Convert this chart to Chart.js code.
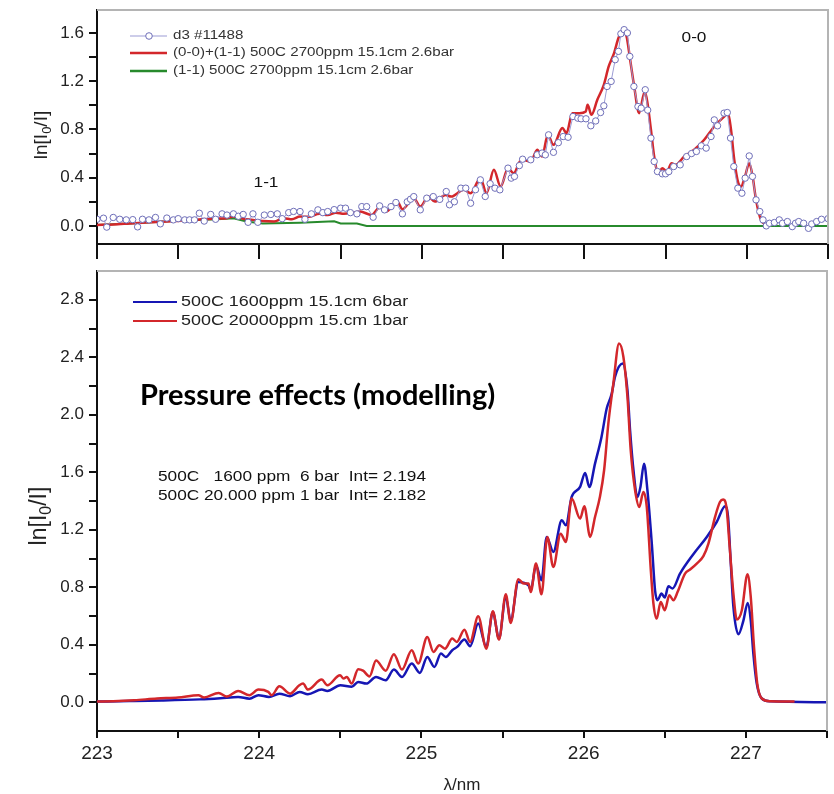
<!DOCTYPE html>
<html><head><meta charset="utf-8">
<script src="https://cdn.jsdelivr.net/npm/chart.js@4.4.1/dist/chart.umd.min.js"></script>
<style>
html,body{margin:0;padding:0;background:#fff;}
#wrap{position:relative;width:834px;height:794px;overflow:hidden;background:#fff;}
#c1{position:absolute;left:0;top:0;}
#c2{position:absolute;left:0;top:262px;}
</style></head><body>
<div id="wrap">
<canvas id="c1" width="834" height="262"></canvas>
<canvas id="c2" width="834" height="532"></canvas>
</div>
<script>
// ---------- DATA ----------
const xTicks = [223, 223.5, 224, 224.5, 225, 225.5, 226, 226.5, 227, 227.5];
const topYTicks = [0, 0.2, 0.4, 0.6, 0.8, 1.0, 1.2, 1.4, 1.6];
const bottomYTicks = [0, 0.2, 0.4, 0.6, 0.8, 1.0, 1.2, 1.4, 1.6, 1.8, 2.0, 2.2, 2.4, 2.6, 2.8];

const topLabels = ['d3 #11488', '(0-0)+(1-1) 500C 2700ppm 15.1cm 2.6bar', '(1-1) 500C 2700ppm 15.1cm 2.6bar'];
const bottomLabels = ['500C 1600ppm 15.1cm 6bar', '500C 20000ppm 15.cm 1bar'];

// measured d3 #11488
const measLambda = [223.00,223.04,223.06,223.10,223.14,223.18,223.22,223.25,223.28,223.32,223.36,223.39,223.43,223.47,223.50,223.54,223.57,223.60,223.63,223.66,223.70,223.73,223.77,223.80,223.84,223.87,223.90,223.93,223.96,223.99,224.03,224.07,224.11,224.14,224.18,224.21,224.25,224.28,224.32,224.36,224.39,224.42,224.46,224.50,224.53,224.56,224.60,224.63,224.66,224.70,224.74,224.77,224.81,224.84,224.88,224.91,224.93,224.95,224.99,225.03,225.07,225.11,225.15,225.17,225.20,225.24,225.27,225.30,225.33,225.36,225.39,225.42,225.45,225.48,225.53,225.55,225.57,225.60,225.62,225.67,225.71,225.74,225.76,225.78,225.81,225.84,225.87,225.90,225.93,225.96,225.98,226.01,226.04,226.07,226.10,226.12,226.14,226.165,226.19,226.21,226.225,226.245,226.265,226.28,226.305,226.33,226.35,226.375,226.39,226.41,226.43,226.45,226.48,226.50,226.52,226.55,226.59,226.63,226.66,226.69,226.72,226.75,226.78,226.80,226.82,226.86,226.88,226.90,226.92,226.945,226.97,226.99,227.015,227.035,227.057,227.08,227.10,227.12,227.14,227.17,227.20,227.22,227.25,227.28,227.30,227.32,227.35,227.38,227.40,227.43,227.46,227.50];
const measValues = [0.055,0.064,-0.01,0.07,0.055,0.05,0.052,-0.008,0.055,0.05,0.07,0.017,0.065,0.05,0.06,0.05,0.05,0.05,0.105,0.04,0.095,0.055,0.1,0.09,0.1,0.08,0.095,0.03,0.1,0.03,0.09,0.095,0.1,0.06,0.11,0.12,0.119,0.055,0.1,0.133,0.11,0.119,0.135,0.147,0.147,0.11,0.1,0.16,0.16,0.072,0.166,0.133,0.16,0.194,0.1,0.2,0.221,0.243,0.133,0.23,0.243,0.22,0.285,0.175,0.2,0.313,0.313,0.188,0.3,0.382,0.244,0.35,0.313,0.299,0.479,0.396,0.41,0.5,0.553,0.548,0.59,0.604,0.589,0.755,0.61,0.69,0.741,0.735,0.907,0.893,0.888,0.888,0.83,0.87,0.94,0.996,1.156,1.198,1.378,1.447,1.593,1.627,1.6,1.405,1.156,0.99,0.976,1.129,0.96,0.728,0.534,0.451,0.432,0.432,0.45,0.492,0.506,0.575,0.6,0.617,0.664,0.645,0.741,0.879,0.83,0.935,0.94,0.728,0.492,0.313,0.271,0.396,0.58,0.41,0.216,0.119,0.05,0.0,0.022,0.028,0.05,0.022,0.036,-0.006,0.022,0.036,0.022,-0.02,0.016,0.036,0.055,0.06];

// model (0-0)+(1-1), top panel
const modelLambda = [223.00,223.10,223.20,223.30,223.43,223.55,223.65,223.72,223.80,223.84,223.90,223.96,224.02,224.09,224.15,224.20,224.25,224.30,224.37,224.42,224.47,224.52,224.58,224.62,224.69,224.745,224.78,224.848,224.88,224.95,224.99,225.04,225.08,225.145,225.18,225.258,225.30,225.36,225.398,225.443,225.485,225.53,225.565,225.612,225.67,225.71,225.74,225.775,225.81,225.865,225.89,225.926,225.97,226.009,226.02,226.044,226.08,226.12,226.15,226.183,226.214,226.245,226.26,226.282,226.307,226.337,226.372,226.389,226.41,226.43,226.455,226.48,226.508,226.537,226.56,226.615,226.676,226.738,226.80,226.851,226.886,226.903,226.923,226.948,226.964,226.989,227.015,227.036,227.057,227.087,227.118,227.13];
const modelValues = [0.008,0.012,0.02,0.028,0.036,0.045,0.055,0.06,0.064,0.077,0.06,0.05,0.04,0.036,0.064,0.055,0.077,0.075,0.1,0.09,0.11,0.1,0.11,0.119,0.091,0.16,0.119,0.202,0.139,0.23,0.16,0.243,0.202,0.257,0.243,0.299,0.271,0.396,0.271,0.465,0.326,0.479,0.437,0.548,0.534,0.631,0.575,0.755,0.672,0.811,0.769,0.935,0.935,0.949,1.004,0.921,1.046,1.17,1.322,1.433,1.571,1.599,1.571,1.378,1.156,0.935,1.115,1.018,0.797,0.575,0.437,0.479,0.451,0.52,0.506,0.575,0.631,0.714,0.824,0.894,0.927,0.797,0.548,0.354,0.326,0.409,0.52,0.409,0.216,0.05,0.008,0.0];

// (1-1) band, top panel
const band11Lambda = [223.00,223.20,223.52,223.74,223.84,223.92,224.02,224.25,224.46,224.50,224.60,224.66,227.50];
const band11Values = [0.008,0.02,0.044,0.055,0.064,0.036,0.02,0.027,0.038,0.02,0.02,0.0,0.0];

// bottom panel: 500C 1600ppm 15.1cm 6bar
const p6Lambda = [223.00,223.20,223.40,223.635,223.76,223.87,223.94,223.995,224.06,224.124,224.19,224.25,224.30,224.385,224.42,224.50,224.57,224.61,224.66,224.72,224.78,224.83,224.88,224.94,224.99,225.036,225.08,225.12,225.15,225.19,225.22,225.265,225.30,225.35,225.40,225.44,225.478,225.52,225.55,225.597,225.66,225.674,225.706,225.74,225.772,225.813,225.865,225.89,225.926,225.978,226.009,226.035,226.07,226.11,226.142,226.173,226.193,226.24,226.27,226.286,226.307,226.331,226.35,226.372,226.393,226.42,226.44,226.455,226.48,226.50,226.522,226.548,226.594,226.676,226.759,226.82,226.872,226.89,226.907,226.923,226.954,226.985,227.011,227.03,227.046,227.067,227.098,227.149,227.50];
const p6Values = [0.005,0.008,0.012,0.02,0.028,0.037,0.025,0.049,0.037,0.06,0.042,0.072,0.056,0.088,0.079,0.118,0.107,0.141,0.13,0.176,0.153,0.227,0.176,0.27,0.204,0.315,0.246,0.339,0.315,0.362,0.385,0.436,0.39,0.547,0.385,0.628,0.443,0.733,0.566,0.837,0.814,0.779,0.953,0.849,1.15,1.046,1.266,1.231,1.428,1.498,1.595,1.498,1.66,1.846,2.043,2.147,2.263,2.356,2.17,1.892,1.614,1.428,1.498,1.66,1.475,1.104,0.779,0.71,0.756,0.728,0.807,0.791,0.895,1.03,1.15,1.254,1.363,1.289,0.965,0.663,0.473,0.57,0.691,0.57,0.339,0.13,0.026,0.007,0.0];

// bottom panel: 500C 20000ppm 15.cm 1bar
const p1Lambda = [223.00,223.10,223.23,223.37,223.50,223.625,223.66,223.75,223.80,223.87,223.94,223.995,224.056,224.077,224.124,224.19,224.247,224.27,224.30,224.385,224.42,224.498,224.52,224.54,224.57,224.61,224.64,224.68,224.72,224.78,224.83,224.88,224.94,224.98,225.036,225.074,225.11,225.145,225.19,225.218,225.265,225.30,225.35,225.40,225.44,225.478,225.52,225.55,225.597,225.63,225.66,225.674,225.706,225.74,225.776,225.813,225.858,225.89,225.926,225.978,226.004,226.04,226.07,226.10,226.126,226.152,226.183,226.218,226.245,226.27,226.29,226.317,226.343,226.368,226.389,226.414,226.43,226.45,226.475,226.50,226.528,226.553,226.58,226.625,226.656,226.697,226.738,226.769,226.81,226.84,226.86,226.88,226.90,226.923,226.944,226.975,227.01,227.03,227.05,227.07,227.098,227.15,227.30];
const p1Values = [0.005,0.007,0.014,0.026,0.033,0.049,0.033,0.065,0.04,0.079,0.049,0.088,0.072,0.049,0.111,0.06,0.118,0.13,0.088,0.158,0.118,0.188,0.165,0.176,0.13,0.23,0.22,0.18,0.29,0.22,0.334,0.227,0.362,0.27,0.454,0.35,0.397,0.373,0.443,0.42,0.505,0.42,0.598,0.373,0.633,0.436,0.751,0.552,0.856,0.826,0.826,0.767,0.965,0.751,1.15,0.941,1.173,1.115,1.417,1.278,1.363,1.15,1.289,1.428,1.614,1.939,2.217,2.495,2.402,2.124,1.753,1.475,1.359,1.463,1.359,0.918,0.687,0.582,0.698,0.64,0.744,0.71,0.77,0.895,0.923,0.965,1.016,1.104,1.289,1.393,1.41,1.359,1.08,0.756,0.575,0.64,0.89,0.733,0.385,0.13,0.026,0.007,0.005];

// ---------- HELPERS ----------
const TICKFONT = 'Liberation Sans, Arial, Helvetica, sans-serif';
const pts = (xs, ys) => xs.map((x, i) => ({x: x, y: ys[i]}));
const isMult = (v, s) => Math.abs(v / s - Math.round(v / s)) < 1e-6;

function stretchText(ctx, txt, x, y, font, sx, align, color) {
  ctx.save();
  ctx.font = font;
  ctx.fillStyle = color || '#222';
  ctx.textBaseline = 'middle';
  ctx.textAlign = 'left';
  const w = ctx.measureText(txt).width * sx;
  let left = x;
  if (align === 'center') left = x - w / 2;
  else if (align === 'right') left = x - w;
  ctx.translate(left, y);
  ctx.scale(sx, 1);
  ctx.fillText(txt, 0, 0);
  ctx.restore();
}

function yTitle(ctx, cx, cy, size) {
  ctx.save();
  ctx.translate(cx, cy);
  ctx.rotate(-Math.PI / 2);
  ctx.fillStyle = '#222';
  ctx.textBaseline = 'alphabetic';
  ctx.textAlign = 'left';
  const big = size + 'px ' + TICKFONT;
  const small = Math.round(size * 0.7) + 'px ' + TICKFONT;
  ctx.font = big; const w1 = ctx.measureText('ln[I').width;
  ctx.font = small; const w2 = ctx.measureText('0').width;
  ctx.font = big; const w3 = ctx.measureText('/I]').width;
  let x = -(w1 + w2 + w3) / 2;
  const base = size * 0.36;
  ctx.font = big; ctx.fillText('ln[I', x, base); x += w1;
  ctx.font = small; ctx.fillText('0', x, base + size * 0.22); x += w2;
  ctx.font = big; ctx.fillText('/I]', x, base);
  ctx.restore();
}

const framePlugin = {
  id: 'frame',
  afterDraw(chart) {
    const {ctx, chartArea: a} = chart;
    ctx.save();
    ctx.strokeStyle = '#b4b4b4';
    ctx.lineWidth = 2;
    ctx.beginPath();
    ctx.moveTo(a.left, a.top);
    ctx.lineTo(a.right, a.top);
    ctx.lineTo(a.right, a.bottom);
    ctx.stroke();
    ctx.restore();
  }
};

function xScale(tickLen, showLabels, height) {
  return {
    type: 'linear', min: 223, max: 227.5, position: 'bottom', bounds: 'data',
    afterBuildTicks: s => { s.ticks = xTicks.map(v => ({value: v})); },
    afterFit: s => { s.height = height; s.paddingLeft = 0; s.paddingRight = 0; },
    ticks: {
      display: showLabels, autoSkip: false, maxRotation: 0,
      callback: v => isMult(v, 1) ? String(Math.round(v)) : '',
      font: {family: TICKFONT, size: 19}, color: '#222', padding: 4
    },
    grid: {drawOnChartArea: false, drawTicks: true, tickLength: tickLen, color: '#111', lineWidth: 2},
    border: {display: true, color: '#111', width: 2}
  };
}

function yScale(min, max, ticksArr) {
  return {
    type: 'linear', min: min, max: max, bounds: 'data',
    afterBuildTicks: s => { s.ticks = ticksArr.map(v => ({value: v})); },
    afterFit: s => { s.width = 97; s.paddingTop = 0; s.paddingBottom = 0; },
    ticks: {
      autoSkip: false,
      callback: v => isMult(v, 0.4) ? v.toFixed(1) : '',
      font: {family: TICKFONT, size: 17}, color: '#222', padding: 5
    },
    grid: {drawOnChartArea: false, drawTicks: true, tickLength: 8, color: '#111', lineWidth: 2},
    border: {display: true, color: '#111', width: 2}
  };
}

// ---------- TOP CHART ----------
const topText = {
  id: 'topText',
  afterDraw(chart) {
    const ctx = chart.ctx;
    const ds = chart.data.datasets;
    const rows = [36, 53, 71];
    const F = '12px ' + TICKFONT;
    ds.forEach((d, i) => {
      const y = rows[i];
      ctx.save();
      ctx.strokeStyle = d.borderColor;
      ctx.lineWidth = i === 0 ? 1 : 2.5;
      ctx.beginPath(); ctx.moveTo(130, y); ctx.lineTo(167, y); ctx.stroke();
      if (i === 0) {
        ctx.fillStyle = '#fff'; ctx.strokeStyle = d.pointBorderColor; ctx.lineWidth = 1;
        ctx.beginPath(); ctx.arc(149, y, 3.3, 0, Math.PI * 2); ctx.fill(); ctx.stroke();
      }
      ctx.restore();
      stretchText(ctx, d.label, 173, y, F, 1.26, 'left', '#333');
    });
    stretchText(ctx, '1-1', 266, 183, '15px ' + TICKFONT, 1.15, 'center', '#111');
    stretchText(ctx, '0-0', 694, 38, '15px ' + TICKFONT, 1.15, 'center', '#111');
    yTitle(ctx, 40, 135, 19);
  }
};

new Chart(document.getElementById('c1'), {
  type: 'line',
  data: {
    datasets: [
      {label: topLabels[0], data: pts(measLambda, measValues), borderColor: '#9b9bd4', borderWidth: 1,
       pointRadius: 3.2, pointBackgroundColor: '#ffffff', pointBorderColor: '#6e6eb8', pointBorderWidth: 1,
       tension: 0, order: 0},
      {label: topLabels[1], data: pts(modelLambda, modelValues), borderColor: '#d3272b', borderWidth: 2.5,
       pointRadius: 0, cubicInterpolationMode: 'monotone', order: 1},
      {label: topLabels[2], data: pts(band11Lambda, band11Values), borderColor: '#278a2c', borderWidth: 2,
       pointRadius: 0, tension: 0, order: 2}
    ]
  },
  options: {
    responsive: false, animation: false, events: [],
    layout: {padding: {top: 10, right: 6, left: 0, bottom: 0}},
    plugins: {legend: {display: false}, tooltip: {enabled: false}, title: {display: false}},
    scales: {x: xScale(15, false, 18), y: yScale(-0.15, 1.79, topYTicks)}
  },
  plugins: [framePlugin, topText]
});

// ---------- BOTTOM CHART ----------
const OFF = 262;
const bottomText = {
  id: 'bottomText',
  afterDraw(chart) {
    const ctx = chart.ctx;
    const ds = chart.data.datasets;
    const rows = [302 - OFF, 321 - OFF];
    ds.forEach((d, i) => {
      const y = rows[i];
      ctx.save();
      ctx.strokeStyle = d.borderColor; ctx.lineWidth = 2;
      ctx.beginPath(); ctx.moveTo(133, y); ctx.lineTo(177, y); ctx.stroke();
      ctx.restore();
      stretchText(ctx, d.label, 181, y, '14px ' + TICKFONT, 1.28, 'left', '#222');
    });
    ctx.save();
    ctx.font = 'bold 29px Lato, "Open Sans", sans-serif';
    ctx.fillStyle = '#000';
    ctx.textBaseline = 'alphabetic';
    ctx.fillText('Pressure effects (modelling)', 140, 405 - OFF);
    ctx.restore();
    stretchText(ctx, '500C   1600 ppm  6 bar  Int= 2.194', 158, 477 - OFF, '15px ' + TICKFONT, 1.15, 'left', '#111');
    stretchText(ctx, '500C 20.000 ppm 1 bar  Int= 2.182', 158, 496 - OFF, '15px ' + TICKFONT, 1.15, 'left', '#111');
    yTitle(ctx, 38, 516 - OFF, 23);
  }
};

const botX = xScale(7, true, 63);
botX.title = {display: true, text: 'λ/nm', font: {family: TICKFONT, size: 17, lineHeight: 1}, color: '#222', padding: {top: 0, bottom: 0}};

new Chart(document.getElementById('c2'), {
  type: 'line',
  data: {
    datasets: [
      {label: bottomLabels[0], data: pts(p6Lambda, p6Values), borderColor: '#1616b4', borderWidth: 2.5,
       pointRadius: 0, cubicInterpolationMode: 'monotone', order: 1},
      {label: bottomLabels[1], data: pts(p1Lambda, p1Values), borderColor: '#d3272b', borderWidth: 2.5,
       pointRadius: 0, cubicInterpolationMode: 'monotone', order: 0}
    ]
  },
  options: {
    responsive: false, animation: false, events: [],
    layout: {padding: {top: 9, right: 7, left: 0, bottom: 0}},
    plugins: {legend: {display: false}, tooltip: {enabled: false}, title: {display: false}},
    scales: {x: botX, y: yScale(-0.2, 3.0, bottomYTicks)}
  },
  plugins: [framePlugin, bottomText]
});
</script>
</body></html>
